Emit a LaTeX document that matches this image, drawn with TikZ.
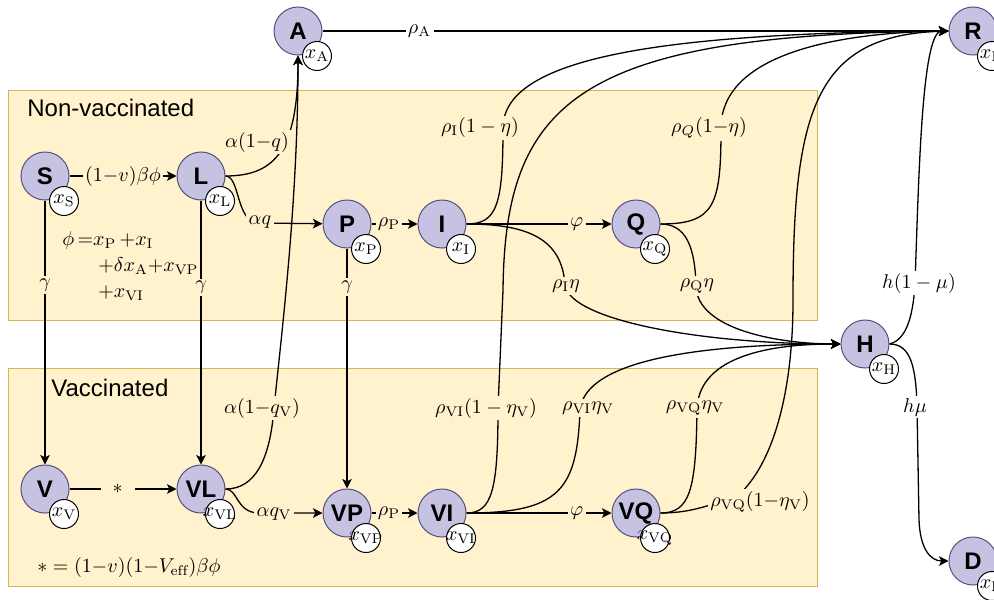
\documentclass[tikz,border=0pt]{standalone}
\usepackage{fontspec}
\newfontfamily\sansfont{Liberation Sans}
\usetikzlibrary{arrows.meta}
\definecolor{zoneFill}{HTML}{FFF2CC}
\definecolor{zoneLine}{HTML}{D6B656}
\definecolor{compFill}{HTML}{C6C3E2}
\definecolor{compLine}{HTML}{56517E}
\tikzset{
  comp/.style={circle, draw=compLine, fill=compFill, line width=0.5pt, minimum size=24pt, inner sep=0pt, font=\sansfont\bfseries\fontsize{12}{14}\selectfont},
  tag/.style={circle, draw=black, fill=white, line width=0.5pt, minimum size=14.5pt, inner sep=0pt, font=\fontsize{10}{12}\selectfont},
  zone/.style={fill=zoneFill, draw=zoneLine, line width=0.5pt},
  caption/.style={font=\sansfont\fontsize{12}{14}\selectfont, anchor=west, inner sep=0pt},
  lbl/.style={fill=zoneFill, inner sep=1.2pt, font=\fontsize{10}{12}\selectfont},
  lblw/.style={lbl, fill=white},
  note/.style={font=\fontsize{10}{13}\selectfont, align=left, anchor=west, inner sep=0pt},
  arrow/.style={-{Stealth[length=4.8pt,width=4.8pt,inset=1.2pt]}, line width=0.65pt},
}
\begin{document}
\begin{tikzpicture}[x=0.5pt,y=-0.5pt]
  \useasboundingbox (0,0) rectangle (994,599);

  % groups
  \draw[zone] (8,91) rectangle (817,320);
  \draw[zone] (8,368) rectangle (817,586);
  \node[caption] (nonvacTitle) at (27,108) {Non-vaccinated};
  \node[caption] (vacTitle) at (51,388) {Vaccinated};
  \node[note] (phiNote) at (62,266) {$\phi\,{=}x_{\mathrm{P}}\,{+}x_{\mathrm{I}}$\\
    \hspace*{18pt}$+\delta x_{\mathrm{A}}{+}x_{\mathrm{VP}}$\\
    \hspace*{18pt}$+x_{\mathrm{VI}}$};
  \node[note] (starNote) at (37,567) {$\ast = (1{-}v)(1{-}V_{\mathrm{eff}})\beta\phi$};

  % compartments
  \foreach \n/\x/\y in {S/45/176, L/201/176, A/298/31, P/347/224, I/442/224, Q/636/224,
      R/973/31, H/865/344, D/973/561, V/45/489, VL/201/489, VP/347/513, VI/442/513, VQ/636/513}{
    \node[comp] (\n) at (\x,\y) {\n};
    \node[tag] (x\n) at (\x+19,\y+25) {\makebox[0pt]{$x_{\mathrm{\n}}$}};
  }

  % non-vaccinated flows
  \draw[arrow] (S) -- node[lbl,pos=0.5] (lSL) {$(1{-}v)\beta\phi$} (L);
  \draw[arrow] (L.east) .. controls (275,176) and (298,150) .. (A.south);
  \draw[arrow] (L.east) .. controls (240,176) and (236,222) .. (258,223) -- (P);
  \draw[arrow] (P) -- node[lbl,pos=0.38] (lPI) {$\rho_{\mathrm{P}}$} (I);
  \draw[arrow] (I) -- node[lbl,pos=0.76] (lIQ) {$\varphi$} (Q);
  \draw[arrow] (I.east) .. controls (497,224) and (503,205) .. (503,128) .. controls (503,60) and (650,33) .. (R.west);
  \draw[arrow] (Q.east) .. controls (715,224) and (721,205) .. (721,128) .. controls (721,60) and (820,33) .. (R.west);
  \draw[arrow] (I.east) .. controls (530,224) and (562,240) .. (565,285) .. controls (570,320) and (700,344) .. (H.west);
  \draw[arrow] (Q.east) .. controls (685,224) and (695,245) .. (696,286) .. controls (697,330) and (780,344) .. (H.west);
  \draw[arrow] (A) -- node[lblw,pos=0.155] (lAR) {$\rho_{\mathrm{A}}$} (R);
  \draw[arrow] (H.east) .. controls (905,340) and (913,320) .. (915,283) .. controls (919,170) and (922,31) .. (R.west);
  \draw[arrow] (H.east) .. controls (910,344) and (916,365) .. (917,407) -- (919,520) .. controls (920,548) and (930,561) .. (D.west);

  % vaccination
  \draw[arrow] (S) -- node[lbl,pos=0.32] (lSV) {$\gamma$} (V);
  \draw[arrow] (L) -- node[lbl,pos=0.33] (lLVL) {$\gamma$} (VL);
  \draw[arrow] (P) -- node[lbl,pos=0.16] (lPVP) {$\gamma$} (VP);

  % vaccinated flows
  \draw[arrow] (V) -- node[lbl,pos=0.45,inner xsep=6pt] (lVVL) {$\ast$} (VL);
  \draw[arrow] (VL.east) .. controls (255,489) and (270,460) .. (274,408) .. controls (282,330) and (298,200) .. (A.south);
  \draw[arrow] (VL.east) .. controls (238,489) and (236,512) .. (258,513) -- (VP);
  \draw[arrow] (VP) -- node[lbl,pos=0.38] (lVPVI) {$\rho_{\mathrm{P}}$} (VI);
  \draw[arrow] (VI) -- node[lbl,pos=0.76] (lVIVQ) {$\varphi$} (VQ);
  \draw[arrow] (VI.east) .. controls (492,513) and (498,490) .. (498,408) -- (503,290) .. controls (505,100) and (580,35) .. (R.west);
  \draw[arrow] (VI.east) .. controls (560,513) and (577,490) .. (580,410) .. controls (585,360) and (700,344) .. (H.west);
  \draw[arrow] (VQ.east) .. controls (690,513) and (696,490) .. (697,410) .. controls (698,360) and (760,344) .. (H.west);
  \draw[arrow] (VQ.east) .. controls (690,513) and (705,506) .. (735,498) .. controls (770,470) and (793,400) .. (793,300) .. controls (793,110) and (815,35) .. (R.west);

  % curve labels
  \node[lbl] (lLA) at (257,142) {$\alpha(1{-}q)$};
  \node[lbl] (lLP) at (260,222) {$\alpha q$};
  \node[lbl] (lIR) at (480,128) {$\rho_{\mathrm{I}}(1-\eta)$};
  \node[lbl] (lQR) at (709,128) {$\rho_{Q}(1{-}\eta)$};
  \node[lbl] (lIH) at (566,286) {$\rho_{\mathrm{I}}\eta$};
  \node[lbl] (lQH) at (697,286) {$\rho_{\mathrm{Q}}\eta$};
  \node[lblw] (lHR) at (919,283) {$h(1-\mu)$};
  \node[lblw] (lHD) at (915,407) {$h\mu$};
  \node[lbl] (lVLA) at (262,408) {$\alpha(1{-}q_{\mathrm{V}})$};
  \node[lbl] (lVLVP) at (274,514) {$\alpha q_{\mathrm{V}}$};
  \node[lbl] (lVIR) at (486,408) {$\rho_{\mathrm{VI}}(1-\eta_{\mathrm{V}})$};
  \node[lbl] (lVIH) at (588,408) {$\rho_{\mathrm{VI}}\eta_{\mathrm{V}}$};
  \node[lbl] (lVQH) at (695,408) {$\rho_{\mathrm{VQ}}\eta_{\mathrm{V}}$};
  \node[lbl] (lVQR) at (760,502) {$\rho_{\mathrm{VQ}}(1{-}\eta_{\mathrm{V}})$};
\end{tikzpicture}
\end{document}
